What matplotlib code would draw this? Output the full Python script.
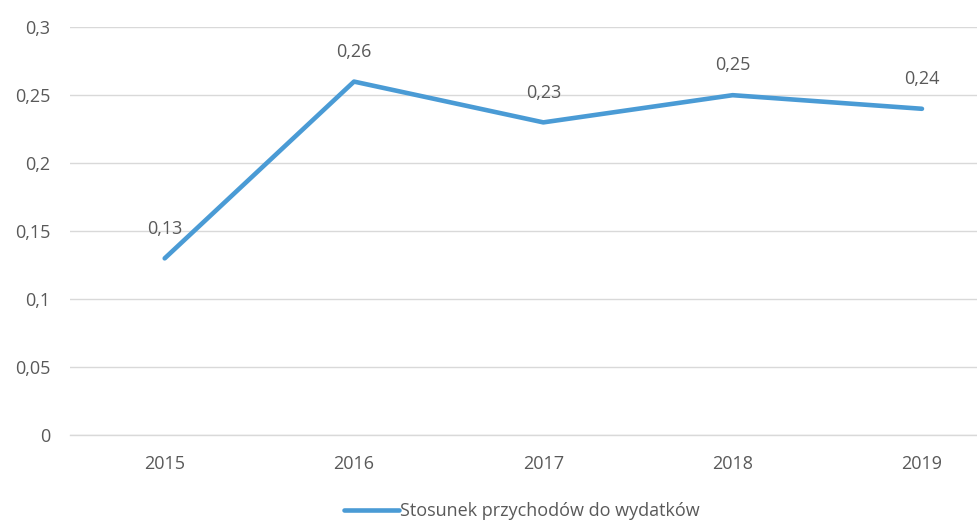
import matplotlib
matplotlib.use('Agg')
import matplotlib.pyplot as plt
from matplotlib.ticker import FuncFormatter

years = ['2015', '2016', '2017', '2018', '2019']
ratio = [0.13, 0.26, 0.23, 0.25, 0.24]
series_name = 'Stosunek przychodów do wydatków'

plt.rcParams['font.family'] = ['Open Sans', 'DejaVu Sans']
txt = '#595959'
blue = '#4A9BD5'

fig = plt.figure(figsize=(9.78, 5.23), dpi=100)
ax = fig.add_axes([0.0716, 0.168, 0.9284, 0.78])

x = list(range(len(years)))
ax.plot(x, ratio, color=blue, linewidth=3.3, solid_capstyle='round', label=series_name)
for xi, v in zip(x, ratio):
    ax.annotate(f'{v:.2f}'.replace('.', ','), (xi, v), xytext=(0, 15), textcoords='offset points',
                ha='center', va='bottom', fontsize=13, color=txt)

ax.set_ylim(0, 0.3)
ax.set_yticks([0, 0.05, 0.1, 0.15, 0.2, 0.25, 0.3])
ax.yaxis.set_major_formatter(FuncFormatter(lambda v, p: ('%g' % round(v, 2)).replace('.', ',')))
ax.set_xticks(x)
ax.set_xticklabels(years)
ax.set_xlim(-0.5, 4.296)
ax.grid(axis='y', color='#d9d9d9', linewidth=1)
ax.axhline(0, color='#d9d9d9', linewidth=1, clip_on=False, zorder=0)
ax.set_axisbelow(True)
for s in ax.spines.values():
    s.set_visible(False)
ax.tick_params(length=0, labelsize=13, labelcolor=txt)
ax.tick_params(axis='y', pad=14)
ax.tick_params(axis='x', pad=14)

leg = fig.legend(loc='lower center', bbox_to_anchor=(0.534, -0.025), frameon=False, fontsize=13,
                 handlelength=3.0, handletextpad=0.1, labelcolor=txt)

fig.savefig('out.png', dpi=100)
